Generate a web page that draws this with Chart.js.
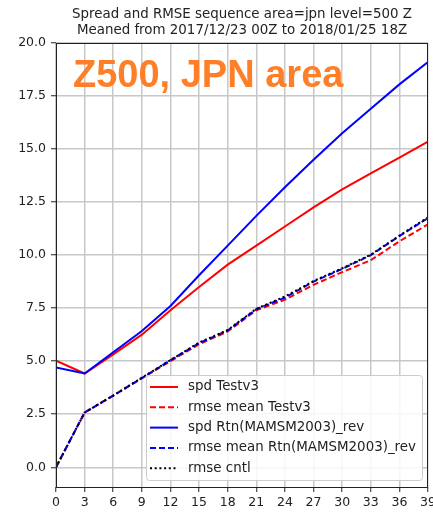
<!DOCTYPE html>
<html>
<head>
<meta charset="utf-8">
<script src="https://cdn.jsdelivr.net/npm/chart.js@4"></script>
<style>
  html, body { margin: 0; padding: 0; background: #fff; }
  #wrap { width: 433px; height: 512px; }
</style>
</head>
<body>
<div id="wrap"><canvas id="c" width="433" height="512"></canvas></div>
<script>
// ===== data =====
const leadTimes = [0, 3, 6, 9, 12, 15, 18, 21, 24, 27, 30, 33, 36, 39];
const spdTest = [5.02, 4.42, 5.32, 6.25, 7.4, 8.5, 9.55, 10.45, 11.35, 12.25, 13.1, 13.85, 14.6, 15.35];
const rmseTest = [0.0, 2.58, 3.38, 4.2, 5.0, 5.8, 6.4, 7.4, 7.9, 8.6, 9.2, 9.76, 10.65, 11.45];
const spdRtn = [4.7, 4.42, 5.42, 6.42, 7.6, 9.05, 10.45, 11.85, 13.2, 14.5, 15.75, 16.9, 18.05, 19.1];
const rmseRtn = [0.0, 2.58, 3.38, 4.2, 5.05, 5.85, 6.45, 7.45, 8.0, 8.75, 9.35, 10.0, 10.9, 11.75];
const rmseCntl = [0.0, 2.58, 3.38, 4.22, 5.05, 5.88, 6.47, 7.47, 8.05, 8.78, 9.38, 10.02, 10.92, 11.78];

const xTicks = [0, 3, 6, 9, 12, 15, 18, 21, 24, 27, 30, 33, 36, 39];
const yTicks = [0, 2.5, 5, 7.5, 10, 12.5, 15, 17.5, 20];

const titleLines = [
    'Spread and RMSE sequence area=jpn level=500 Z',
    'Meaned from 2017/12/23 00Z to 2018/01/25 18Z'
];
const stamp = 'Z500, JPN area';

const pts = ys => leadTimes.map((x, i) => ({ x, y: ys[i] }));

const series = (label, ys, color, dash, order) => ({
    label,
    data: pts(ys),
    borderColor: color,
    backgroundColor: color,
    borderWidth: 2,
    borderDash: dash,
    pointRadius: 0,
    tension: 0,
    fill: false,
    order
});

const FONT = '"DejaVu Sans", sans-serif';

// title, stamp, frame and legend box
const decor = {
    id: 'decor',
    afterDraw(chart) {
        const ctx = chart.ctx;
        const a = chart.chartArea;
        ctx.save();

        // frame
        ctx.strokeStyle = '#222';
        ctx.lineWidth = 1;
        ctx.strokeRect(Math.round(a.left) + 0.5, Math.round(a.top) + 0.5,
            Math.round(a.right - a.left) - 1, Math.round(a.bottom - a.top));

        // title
        ctx.fillStyle = '#222';
        ctx.font = '13.4px ' + FONT;
        ctx.textAlign = 'center';
        ctx.textBaseline = 'middle';
        const cx = (a.left + a.right) / 2;
        ctx.fillText(titleLines[0], cx, 15);
        ctx.fillText(titleLines[1], cx, 31);

        // orange stamp
        ctx.fillStyle = '#fe7f27';
        ctx.font = 'bold 38px "Liberation Sans", Arial, sans-serif';
        ctx.textAlign = 'left';
        ctx.textBaseline = 'alphabetic';
        ctx.fillText(stamp, 73, 87);

        // legend
        const bx = 146, by = 375, bw = 276, bh = 105;
        ctx.fillStyle = 'rgba(255,255,255,0.85)';
        ctx.strokeStyle = '#cccccc';
        ctx.lineWidth = 1;
        ctx.beginPath();
        ctx.roundRect(bx + 0.5, by + 0.5, bw, bh, 3);
        ctx.fill();
        ctx.stroke();

        ctx.font = '13.4px ' + FONT;
        ctx.textBaseline = 'middle';
        chart.data.datasets.forEach((ds, i) => {
            const y = by + 12 + i * 20.3;
            ctx.strokeStyle = ds.borderColor;
            ctx.lineWidth = 2;
            ctx.setLineDash(ds.borderDash || []);
            ctx.beginPath();
            ctx.moveTo(150, y);
            ctx.lineTo(178, y);
            ctx.stroke();
            ctx.setLineDash([]);
            ctx.fillStyle = '#222';
            ctx.fillText(ds.label, 188, y);
        });
        ctx.restore();
    }
};

new Chart(document.getElementById('c'), {
    type: 'line',
    data: {
        datasets: [
            series('spd Testv3', spdTest, '#ff0000', [], 5),
            series('rmse mean Testv3', rmseTest, '#ff0000', [6, 3], 4),
            series('spd Rtn(MAMSM2003)_rev', spdRtn, '#0000ff', [], 3),
            series('rmse mean Rtn(MAMSM2003)_rev', rmseRtn, '#0000ff', [6, 3], 2),
            series('rmse cntl', rmseCntl, '#000000', [2, 2.7], 1)
        ]
    },
    options: {
        responsive: false,
        animation: false,
        events: [],
        layout: { padding: { top: 43, right: 5, left: 0, bottom: 0 } },
        plugins: {
            legend: { display: false },
            title: { display: false },
            tooltip: { enabled: false }
        },
        scales: {
            x: {
                type: 'linear',
                min: 0,
                max: 39,
                afterBuildTicks: s => { s.ticks = xTicks.map(v => ({ value: v })); },
                afterFit: s => { s.height = 25; s.paddingLeft = 0; s.paddingRight = 0; },
                grid: { color: '#c8c8c8', lineWidth: 1.5, tickColor: '#222', tickLength: 5, tickWidth: 1 },
                border: { display: false },
                ticks: {
                    autoSkip: false,
                    maxRotation: 0,
                    padding: 3,
                    color: '#222',
                    font: { family: FONT, size: 12.5 },
                    callback: v => String(v)
                }
            },
            y: {
                type: 'linear',
                min: -0.93,
                max: 20,
                afterBuildTicks: s => { s.ticks = yTicks.map(v => ({ value: v })); },
                afterFit: s => { s.width = 56; s.paddingTop = 0; s.paddingBottom = 0; },
                grid: { color: '#c8c8c8', lineWidth: 1.5, tickColor: '#222', tickLength: 5, tickWidth: 1 },
                border: { display: false },
                ticks: {
                    autoSkip: false,
                    padding: 5,
                    color: '#222',
                    font: { family: FONT, size: 12.5 },
                    callback: v => v.toFixed(1)
                }
            }
        }
    },
    plugins: [decor]
});
</script>
</body>
</html>
